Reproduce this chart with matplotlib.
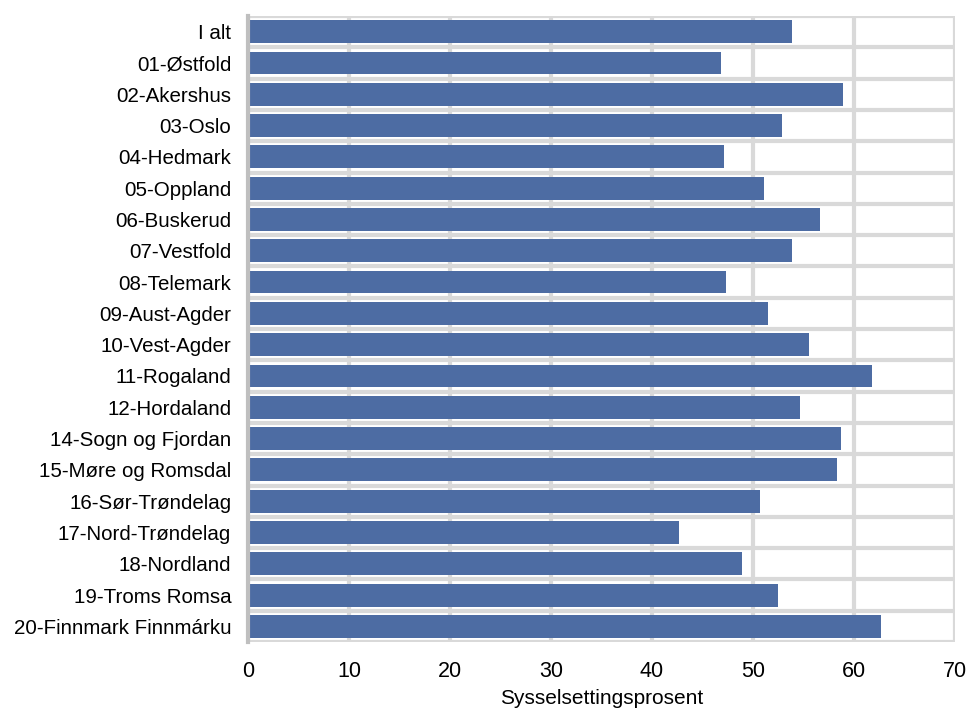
import matplotlib.pyplot as plt

regions = ['I alt', '01-Østfold', '02-Akershus', '03-Oslo', '04-Hedmark', '05-Oppland',
           '06-Buskerud', '07-Vestfold', '08-Telemark', '09-Aust-Agder', '10-Vest-Agder',
           '11-Rogaland', '12-Hordaland', '14-Sogn og Fjordan', '15-Møre og Romsdal',
           '16-Sør-Trøndelag', '17-Nord-Trøndelag', '18-Nordland', '19-Troms Romsa',
           '20-Finnmark Finnmárku']
values = [53.9, 46.8, 58.9, 52.9, 47.1, 51.1, 56.6, 53.9, 47.3, 51.5, 55.5,
          61.8, 54.7, 58.7, 58.3, 50.7, 42.7, 48.9, 52.5, 62.7]

plt.rcParams['font.family'] = ['Liberation Sans', 'DejaVu Sans']

fig = plt.figure(figsize=(9.72, 7.11), dpi=100)
ax = fig.add_axes([0.255, 0.097, 0.7275, 0.8805])

y = list(range(len(regions)))
ax.barh(y, values, height=0.73, color='#4d6ca3', zorder=3)

ax.set_xlim(0, 70)
ax.set_ylim(len(regions) - 0.5, -0.5)
ax.set_xticks(range(0, 71, 10))
ax.set_yticks(y)
ax.set_yticklabels(regions)
# grid lines between categories
ax.set_yticks([i + 0.5 for i in range(-1, len(regions))], minor=True)
ax.grid(axis='x', which='major', color='#d9d9d9', lw=3, zorder=0)
ax.grid(axis='y', which='minor', color='#d9d9d9', lw=3, zorder=0)
ax.tick_params(which='both', length=0)
ax.tick_params(axis='x', pad=14, labelsize=15.5)
ax.tick_params(axis='y', pad=12, labelsize=14.8)

for s in ['top', 'right', 'bottom']:
    ax.spines[s].set_visible(False)
ax.spines['left'].set_color('#bfbfbf')
ax.spines['left'].set_linewidth(3)
ax.spines['left'].set_zorder(4)

ax.set_xlabel('Sysselsettingsprosent', fontsize=15, labelpad=5)

fig.savefig('out.png', dpi=100)
